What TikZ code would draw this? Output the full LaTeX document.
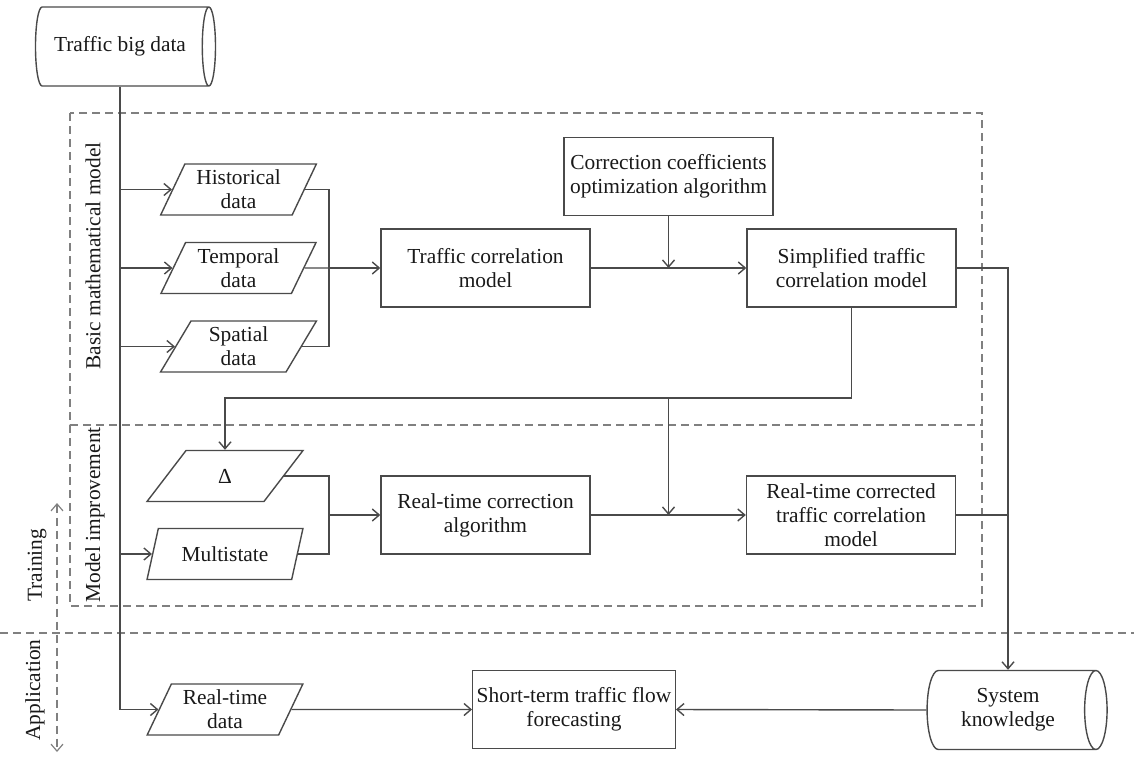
\documentclass[tikz,border=0pt]{standalone}
\usepackage{fontspec}
\setmainfont{Liberation Serif}
\usetikzlibrary{shapes.geometric, arrows.meta}
\definecolor{linegray}{HTML}{4A4A4A}
\definecolor{dashgray}{HTML}{808080}

\begin{document}
\begin{tikzpicture}[
            x=0.5pt, y=-0.5pt, % one unit per pixel of the page
            >={Straight Barb[length=3.5pt, width=6pt]},
            every node/.style={font=\fontsize{10.7}{12}\selectfont, text=black!90, align=center}, % text of all nodes
            box/.style={rectangle, draw=linegray, line width=0.7pt, minimum width=104.5pt, minimum height=39pt, inner sep=2pt}, % process step
            datainput/.style={trapezium, trapezium left angle=64, trapezium right angle=116, trapezium stretches=true, draw=linegray, line width=0.7pt, minimum width=78pt, minimum height=25.5pt, inner sep=0pt}, % data
            store/.style={cylinder, shape border rotate=0, aspect=0.4, draw=linegray, line width=0.7pt, minimum width=39.5pt, minimum height=90pt}, % stored knowledge
            link/.style={draw=linegray, line width=0.7pt},
            region/.style={draw=dashgray, line width=0.6pt, dash pattern=on 4pt off 2.5pt},
            steplabel/.style={rotate=90, inner sep=0pt}
            ]
        \useasboundingbox (0,0) rectangle (1134,756);

                % dashed frames of the two training stages
                \draw[region] (70,113) rectangle (982,425);
                \draw[region] (70,425) -- (70,606) -- (982,606) -- (982,425);
                \draw[region] (0,633) -- (1134,633);
                \draw[region, <->] (57,503) -- (57,752);

                \node[steplabel, anchor=east] (basiclbl) at (93,142) {Basic mathematical model};
                \node[steplabel, anchor=west] (improvelbl) at (95,603) {Model improvement};
                \node[steplabel, anchor=west] (trainlbl) at (37,602) {Training};
                \node[steplabel] (applbl) at (35,690) {Application};

                % nodes
                \node[store] (bigdata) at (120,46.5) {Traffic big data};
                \node[datainput] (hist) at (238.5,189.5) {Historical\\data};
                \node[datainput] (temp) at (238.5,268) {Temporal\\data};
                \node[datainput] (spat) at (238.5,346.5) {Spatial\\data};
                \node[box] (tcm) at (485.5,268) {Traffic correlation\\model};
                \node[box] (ccoa) at (668.5,176.5) {Correction coefficients\\optimization algorithm};
                \node[box] (simp) at (851.5,268) {Simplified traffic\\correlation model};
                \node[datainput] (delta) at (225,476) {Δ};
                \node[datainput] (multi) at (225,554) {Multistate};
                \node[box] (rtca) at (485.5,515) {Real-time correction\\algorithm};
                \node[box] (rtc) at (851,515) {Real-time corrected\\traffic correlation\\model};
                \node[datainput] (rtdata) at (225,709.5) {Real-time\\data};
                \node[box, minimum width=101pt] (fore) at (574,709.5) {Short-term traffic flow\\forecasting};
                \node[store] (know) at (1008,710) {System\\knowledge};

                % connectors
                \draw[link, ->] (bigdata.south) |- (rtdata.west);
                \foreach \n in {hist, temp, spat, multi}
                    \draw[link, ->] (bigdata.south |- \n.west) -- (\n.west);

                \coordinate (join1) at (329,268);
                \draw[link] (hist.east) -| (join1) |- (spat.east);
                \draw[link] (temp.east) -- (join1);
                \draw[link, ->] (join1) -- (tcm.west);
                \draw[link, ->] (tcm.east) -- (simp.west);
                \draw[link, ->] (ccoa.south) -- (ccoa.south |- tcm.east);
                \draw[link, ->] (simp.east) -| (know.north);

                \coordinate (fb) at (851.5,398);
                \draw[link, ->] (simp.south) -- (fb) -| (delta.north);
                \draw[link, ->] (ccoa.south |- fb) -- (ccoa.south |- rtca.east);

                \coordinate (join2) at (329,515);
                \draw[link] (delta.east) -| (join2) |- (multi.east);
                \draw[link, ->] (join2) -- (rtca.west);
                \draw[link, ->] (rtca.east) -- (rtc.west);
                \draw[link] (rtc.east) -- (rtc.east -| know.north);

                \draw[link, ->] (rtdata.east) -- (fore.west);
                \draw[link, ->] (know.west) -- (fore.east);

            \end{tikzpicture}
\end{document}
